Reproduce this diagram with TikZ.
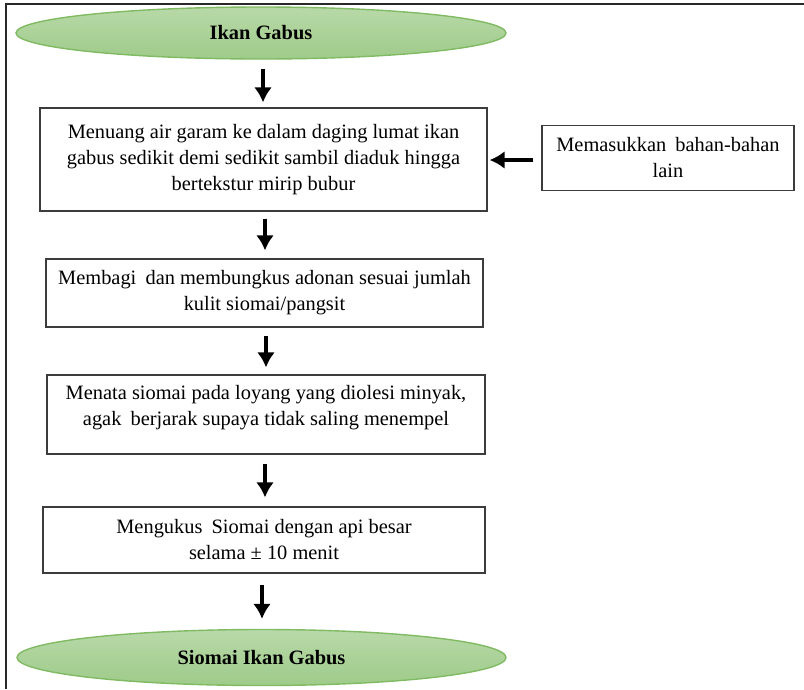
\documentclass[tikz,border=0pt]{standalone}
\usepackage{fontspec}
\setmainfont{Liberation Serif}
\usetikzlibrary{arrows.meta,shapes.geometric}
\definecolor{termtop}{RGB}{184,217,168}
\definecolor{termbot}{RGB}{158,203,138}
\definecolor{termline}{RGB}{128,186,98}
\definecolor{boxline}{RGB}{60,60,60}
\definecolor{frameline}{RGB}{40,40,40}
\newcommand{\wsp}{\hspace{0.45em}}
\begin{document}
\begin{tikzpicture}[x=1pt,y=-1pt,
  txt/.style={font=\fontsize{20.4}{26}\selectfont, align=center},
  stepbox/.style={draw=boxline, line width=1.3pt, fill=white, inner sep=0pt, txt},
  terminal/.style={ellipse, draw=termline, line width=1.4pt, top color=termtop,
    bottom color=termbot, inner sep=0pt, font=\fontsize{20.4}{26}\selectfont\bfseries},
  flow/.style={line width=3.5pt, -{Latex[length=15pt,width=18pt]}}]
\useasboundingbox (0,0) rectangle (804,689);

% outer frame (top and left edges)
\draw[frameline, line width=1.2pt] (6,689) -- (6,4) -- (804,4);

% start and end
\node[terminal, minimum width=490, minimum height=52] (start) at (261,33) {Ikan Gabus};
\node[terminal, minimum width=489, minimum height=56] (finish) at (261.5,657.5) {Siomai Ikan Gabus};

% process steps
\node[stepbox, minimum width=447, minimum height=103] (mix) at (263.5,159.5)
  {Menuang air garam ke dalam daging lumat ikan\\
   gabus sedikit demi sedikit sambil diaduk hingga\\
   bertekstur mirip bubur};
\node[stepbox, minimum width=252, minimum height=65] (extra) at (668,158)
  {Memasukkan\wsp bahan-bahan\\lain};
\node[stepbox, minimum width=437, minimum height=68] (wrap) at (264.5,293)
  {Membagi\wsp dan membungkus adonan sesuai jumlah\\kulit siomai/pangsit};
\node[stepbox, minimum width=438, minimum height=79] (tray) at (266,414.5) {};
\node[txt, inner sep=0pt] (traytext) at (266,408)
  {Menata siomai pada loyang yang diolesi minyak,\\
   agak\wsp berjarak supaya tidak saling menempel};
\node[stepbox, minimum width=442, minimum height=66] (steam) at (264,540)
  {Mengukus\wsp Siomai dengan api besar\\selama ± 10 menit};

% connectors
\draw[flow, shorten <=9pt, shorten >=5pt] (start.south -| 263,0) -- (mix.north -| 263,0);
\draw[flow, shorten <=7pt, shorten >=8pt] (mix.south -| 265,0) -- (wrap.north -| 265,0);
\draw[flow, shorten <=8pt, shorten >=7pt] (wrap.south -| 266,0) -- (tray.north -| 266,0);
\draw[flow, shorten <=9pt, shorten >=9pt] (tray.south -| 265,0) -- (steam.north -| 265,0);
\draw[flow, shorten <=11pt, shorten >=10pt] (steam.south -| 262,0) -- (finish.north -| 262,0);
\draw[flow, shorten <=8pt, shorten >=2pt] (extra.west |- 0,160) -- (mix.east |- 0,160);
\end{tikzpicture}
\end{document}
